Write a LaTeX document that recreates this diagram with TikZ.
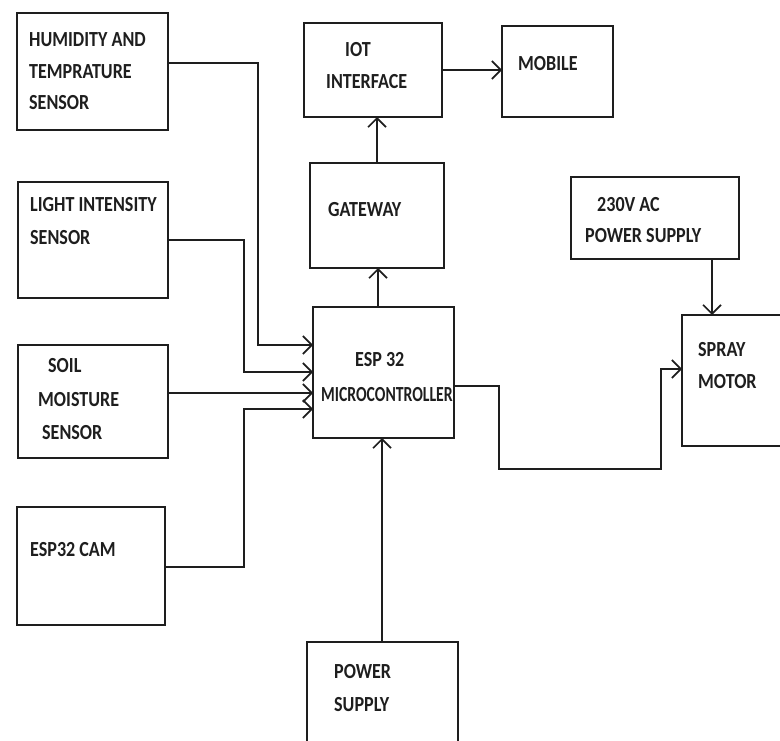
\documentclass[tikz,border=0pt]{standalone}
\usepackage{fontspec}
\usepackage{graphicx}
\setmainfont{Carlito}
\usetikzlibrary{arrows.meta}
\definecolor{ink}{HTML}{1E1E1E}
\newcommand{\sqz}[2][0.84]{\scalebox{#1}[1]{#2}}
\begin{document}
\begin{tikzpicture}[x=1pt,y=-1pt,
  box/.style={draw=ink,line width=2.4pt,inner sep=0pt,outer sep=0pt,anchor=north west},
  lbl/.style={anchor=west,inner sep=0pt,text=ink,font=\fontsize{21.5}{23}\selectfont\bfseries},
  arr/.style={draw=ink,line width=1.8pt,-{Straight Barb[length=9pt,width=18pt,line width=1.6pt]}},
  wire/.style={draw=ink,line width=1.8pt}]
\useasboundingbox (0,0) rectangle (780,741);
% boxes
\node[box,minimum width=151pt,minimum height=117pt] (hum) at (17,13) {};
\node[box,minimum width=150pt,minimum height=116pt] (light) at (18,182) {};
\node[box,minimum width=150pt,minimum height=113pt] (soil) at (18,345) {};
\node[box,minimum width=148pt,minimum height=118pt] (cam) at (17,507) {};
\node[box,minimum width=138pt,minimum height=94pt] (iot) at (304,23) {};
\node[box,minimum width=111pt,minimum height=91pt] (mob) at (502,26) {};
\node[box,minimum width=134pt,minimum height=105pt] (gw) at (310,163) {};
\node[box,minimum width=141pt,minimum height=131pt] (esp) at (313,307) {};
\node[box,minimum width=151pt,minimum height=104pt] (pwr) at (307,642) {};
\node[box,minimum width=168pt,minimum height=82pt] (ac) at (571,177) {};
\node[box,minimum width=103pt,minimum height=131pt] (spray) at (682,315) {};
% texts
\node[lbl] (t1) at (29,40) {\sqz{HUMIDITY AND}};
\node[lbl] (t2) at (29,72) {\sqz{TEMPRATURE}};
\node[lbl] (t3) at (29,103) {\sqz{SENSOR}};
\node[lbl] (t4) at (30,205) {\sqz{LIGHT INTENSITY}};
\node[lbl] (t5) at (30,238) {\sqz{SENSOR}};
\node[lbl] (t6) at (48,366) {\sqz{SOIL}};
\node[lbl] (t7) at (38,400) {\sqz{MOISTURE}};
\node[lbl] (t8) at (42,433) {\sqz{SENSOR}};
\node[lbl] (t9) at (30,550) {\sqz{ESP32 CAM}};
\node[lbl] (t10) at (345,50) {\sqz{IOT}};
\node[lbl] (t11) at (326,82) {\sqz{INTERFACE}};
\node[lbl] (t12) at (518,64) {\sqz{MOBILE}};
\node[lbl] (t13) at (328,210) {\sqz{GATEWAY}};
\node[lbl] (t14) at (355,360) {\sqz{ESP 32}};
\node[lbl] (t15) at (321,395) {\sqz[0.73]{MICROCONTROLLER}};
\node[lbl] (t16) at (597,205) {\sqz{230V AC}};
\node[lbl] (t17) at (585,236) {\sqz{POWER SUPPLY}};
\node[lbl] (t18) at (698,350) {\sqz{SPRAY}};
\node[lbl] (t19) at (698,382) {\sqz{MOTOR}};
\node[lbl] (t20) at (334,672) {\sqz{POWER}};
\node[lbl] (t21) at (334,705) {\sqz{SUPPLY}};
% connectors
\draw[arr] (hum.east |- 0,63) -- (258,63) |- (esp.west |- 0,345);
\draw[arr] (light.east |- 0,240) -- (244,240) |- (esp.west |- 0,372);
\draw[arr] (soil.east |- 0,393) -- (esp.west |- 0,393);
\draw[arr] (cam.east |- 0,567) -- (244,567) |- (esp.west |- 0,409);
\draw[arr] (iot.east |- 0,70) -- (mob.west |- 0,70);
\draw[arr] (gw.north -| 377,0) -- (iot.south -| 377,0);
\draw[arr] (esp.north -| 378,0) -- (gw.south -| 378,0);
\draw[arr] (pwr.north -| 382,0) -- (esp.south -| 382,0);
\draw[arr] (esp.east |- 0,386) -- (499,386) -- (499,469) -- (661,469) |- (spray.west |- 0,369);
\draw[arr] (ac.south -| 712,0) -- (spray.north -| 712,0);
\end{tikzpicture}
\end{document}
